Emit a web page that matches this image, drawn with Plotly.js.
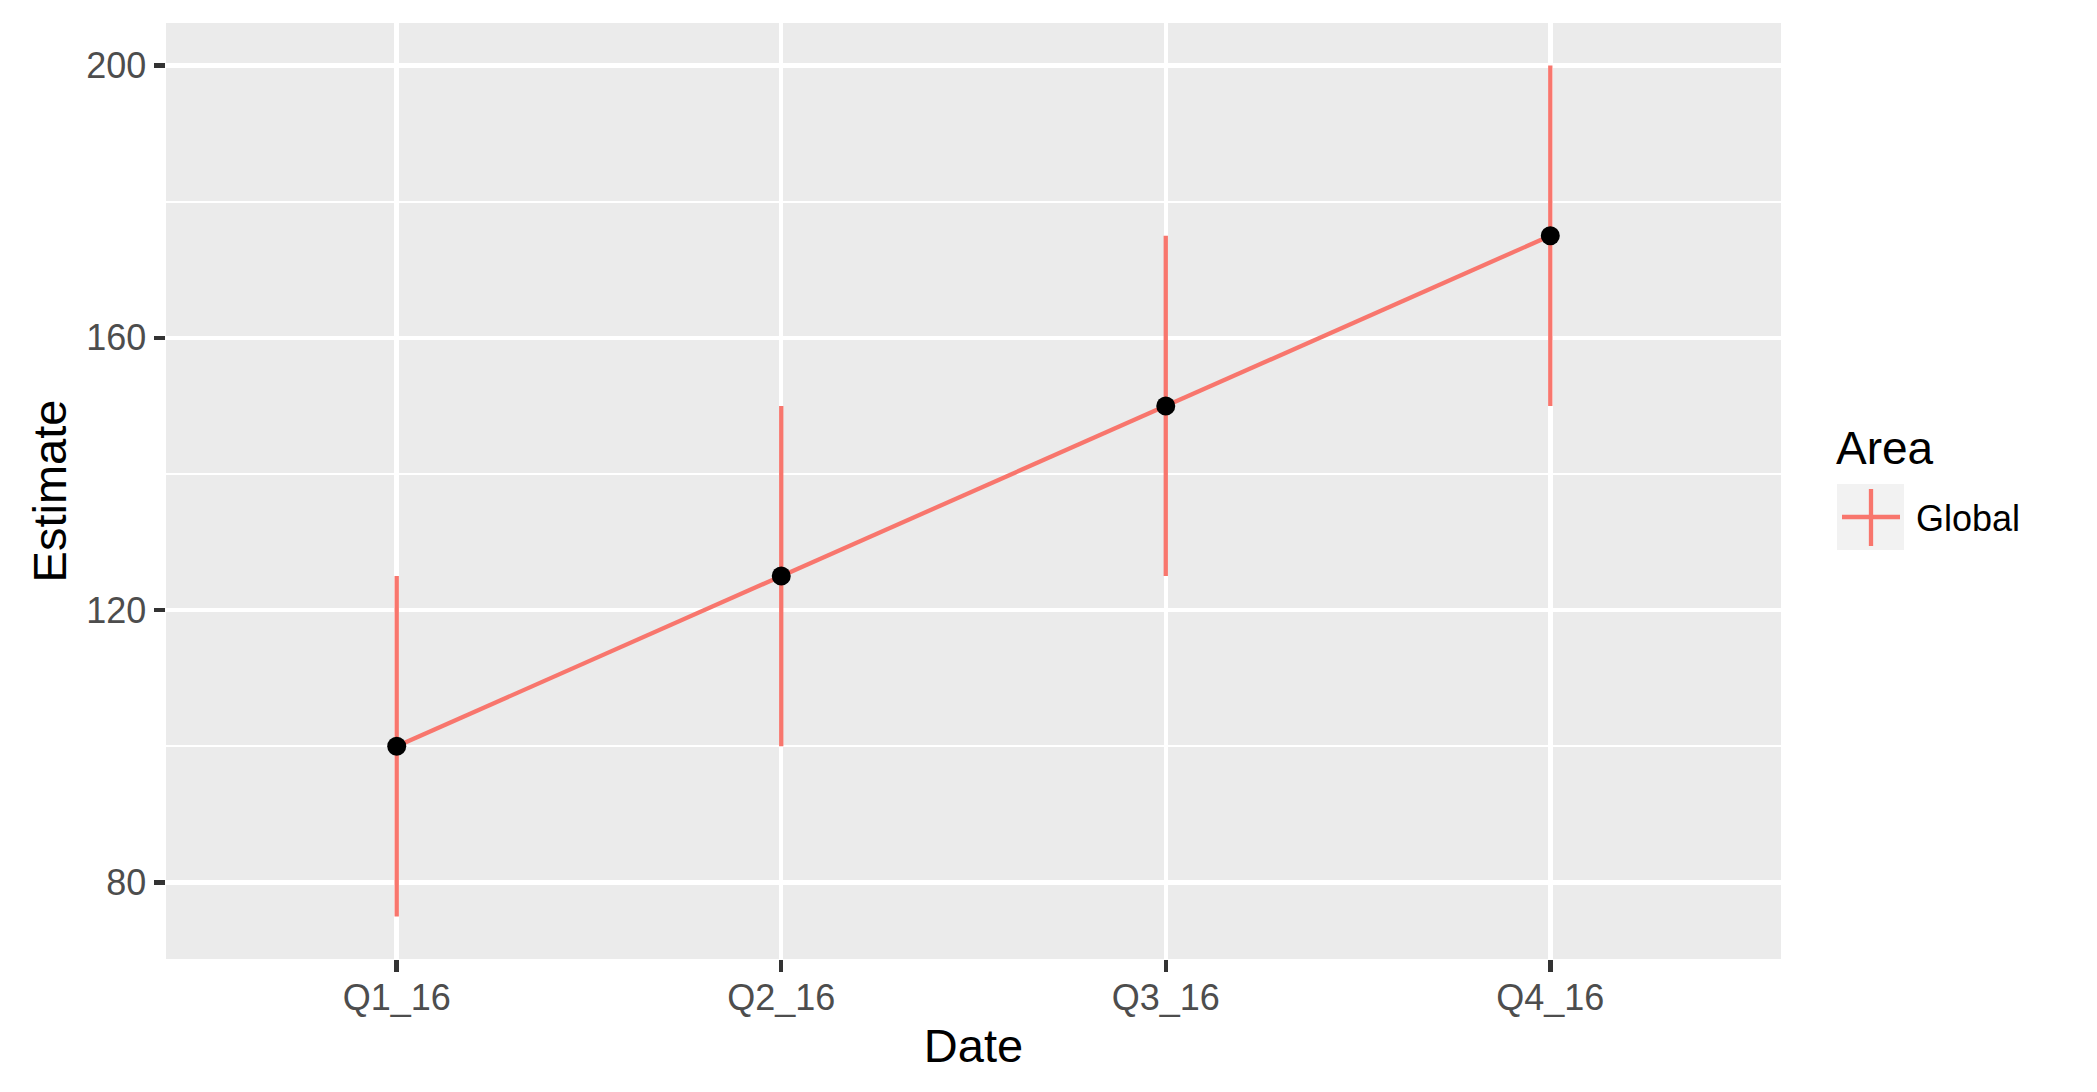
<!DOCTYPE html>
<html>
<head>
<meta charset="utf-8">
<script src="https://cdn.plot.ly/plotly-3.0.1.min.js"></script>
<style>html,body{margin:0;padding:0;background:#fff;}#chart{width:2097px;height:1092px;}</style>
</head>
<body>
<div id="chart"></div>
<script>
// Data
const dates = ["Q1_16", "Q2_16", "Q3_16", "Q4_16"];
const estimate = [100, 125, 150, 175];
const lower = [75, 100, 125, 150];
const upper = [125, 150, 175, 200];
const areaName = "Global";
const yTicks = [80, 120, 160, 200];

const W = 2097, H = 1092;
const M = {l: 166, r: 316, t: 23, b: 133};
const pw = W - M.l - M.r, ph = H - M.t - M.b;
const px = x => (x - M.l) / pw;
const py = y => 1 - (y - M.t) / ph;

const red = "#F8766D";
const font = "Liberation Sans, Arial, Helvetica, sans-serif";

const traces = [
  {
    x: dates, y: estimate, type: "scatter", mode: "lines",
    line: {color: red, width: 4.3},
    error_y: {type: "data", symmetric: false,
      array: upper.map((u, i) => u - estimate[i]),
      arrayminus: lower.map((l, i) => estimate[i] - l),
      width: 0, thickness: 4.3, color: red},
    showlegend: false, hoverinfo: "x+y"
  },
  {
    x: dates, y: estimate, type: "scatter", mode: "markers",
    marker: {color: "#000000", size: 19},
    showlegend: false, hoverinfo: "skip"
  }
];

const layout = {
  width: W, height: H,
  margin: M,
  paper_bgcolor: "#FFFFFF",
  plot_bgcolor: "#EBEBEB",
  font: {family: font, color: "#000"},
  showlegend: false,
  xaxis: {
    type: "category",
    range: [-0.6, 3.6],
    showgrid: true, gridcolor: "#FFFFFF", gridwidth: 4.5,
    zeroline: false, showline: false,
    ticks: "outside", ticklen: 11.5, tickwidth: 4.5, tickcolor: "#333333",
    ticklabelstandoff: -5,
    tickfont: {family: font, size: 36, color: "#4D4D4D"},
    title: {text: "Date", font: {family: font, size: 47, color: "#000"}, standoff: 12},
    automargin: false
  },
  yaxis: {
    range: [68.75, 206.25],
    tickvals: yTicks,
    showgrid: true, gridcolor: "#FFFFFF", gridwidth: 4.5,
    minor: {tickvals: [100, 140, 180], showgrid: true, gridcolor: "#FFFFFF", gridwidth: 2.3, ticks: ""},
    zeroline: false, showline: false,
    ticks: "outside", ticklen: 11.5, tickwidth: 4.5, tickcolor: "#333333",
    tickfont: {family: font, size: 36, color: "#4D4D4D"},
    title: {text: "Estimate", font: {family: font, size: 47, color: "#000"}, standoff: 4},
    automargin: false
  },
  shapes: [
    {type: "rect", xref: "paper", yref: "paper", x0: px(1837), x1: px(1904), y0: py(484), y1: py(550),
     fillcolor: "#F2F2F2", line: {width: 0}, layer: "above"},
    {type: "line", xref: "paper", yref: "paper", x0: px(1842), x1: px(1900), y0: py(517), y1: py(517),
     line: {color: red, width: 4.3}},
    {type: "line", xref: "paper", yref: "paper", x0: px(1871), x1: px(1871), y0: py(489), y1: py(546),
     line: {color: red, width: 4.3}}
  ],
  annotations: [
    {text: "Area", xref: "paper", yref: "paper", x: px(1834), y: py(448), xanchor: "left", yanchor: "middle",
     showarrow: false, font: {family: font, size: 46, color: "#000"}},
    {text: areaName, xref: "paper", yref: "paper", x: px(1914), y: py(518), xanchor: "left", yanchor: "middle",
     showarrow: false, font: {family: font, size: 36, color: "#000"}}
  ]
};

Plotly.newPlot("chart", traces, layout, {displayModeBar: false, staticPlot: true});
</script>
</body>
</html>
